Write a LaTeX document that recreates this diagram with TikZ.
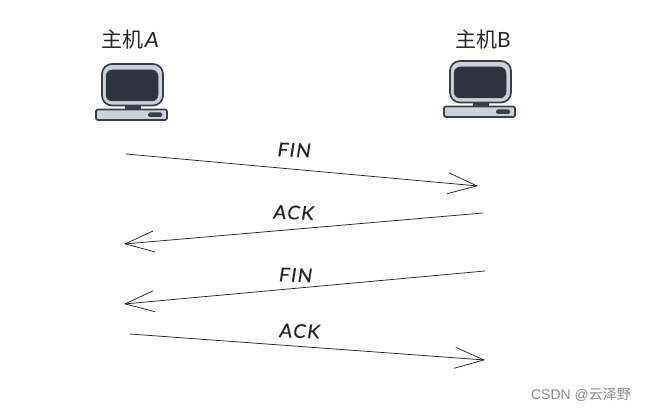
\documentclass[tikz,border=0pt]{standalone}
\usepackage{fontspec}
\setmainfont{Lato}
\newfontfamily\cjk{Noto Sans CJK SC}
\newfontfamily\sketchfont[LetterSpace=7,FakeBold=0.35,FakeSlant=0.12]{Lato}
\newfontfamily\sketchletter[FakeSlant=0.15]{Lato}
\newfontfamily\plainsans{Liberation Sans}
\usetikzlibrary{arrows.meta}
\definecolor{edgeink}{HTML}{3A3F47}
\definecolor{screenink}{HTML}{2F333B}
\definecolor{bezel}{HTML}{CDD1DA}
\tikzset{
  x=1pt,y=-1pt,
  msg/.style={draw=black!85,line width=0.75pt,-{Straight Barb[length=29pt,width=21pt,line width=0.75pt]}},
  msglabel/.style={font=\fontsize{19}{19}\selectfont\sketchfont,text=black!85,inner sep=0pt,rotate=-2},
  hostlabel/.style={font=\fontsize{21}{21}\selectfont,text=black!85,inner sep=0pt},
  case/.style={draw=edgeink,line width=1.7pt,fill=bezel},
  screen/.style={fill=screenink,draw=edgeink,line width=0.5pt}
}
% One desktop computer, origin at the top-left corner of the monitor
\newcommand{\hostpc}[2]{%
  \begin{scope}[shift={(#1,#2)}]
    \draw[case,rounded corners=10pt] (0,0) rectangle (61,41.5);
    \draw[screen,rounded corners=6pt] (4,6) rectangle (56,37);
    \fill[edgeink] (23,41) rectangle (39,46);
    \draw[case,rounded corners=2pt] (-6,45.5) rectangle (65,56);
    \fill[edgeink,rounded corners=1.5pt] (46,48.5) rectangle (60,53);
  \end{scope}}
\begin{document}
\begin{tikzpicture}
\useasboundingbox (0,0) rectangle (646,412);
\fill[white] (0,0) rectangle (646,412);

\hostpc{102}{64}
\hostpc{450}{61}

\node[hostlabel] (hosta) at (130,40) {{\cjk 主机}{\sketchletter A}};
\node[hostlabel] (hostb) at (483,40) {{\cjk 主机}B};

\coordinate (a1) at (126,154);  \coordinate (b1) at (478,186);
\coordinate (b2) at (483,213);  \coordinate (a2) at (124,244);
\coordinate (b3) at (485,271);  \coordinate (a3) at (124,304);
\coordinate (a4) at (130,334);  \coordinate (b4) at (485,360);

\draw[msg] (a1) -- (b1);
\draw[msg] (b2) -- (a2);
\draw[msg] (b3) -- (a3);
\draw[msg] (a4) -- (b4);

\node[msglabel] (fin1) at (293.5,150) {FIN};
\node[msglabel] (ack1) at (293,212.5) {ACK};
\node[msglabel] (fin2) at (295,275) {FIN};
\node[msglabel] (ack2) at (299,331) {ACK};

\node[font=\fontsize{14}{14}\selectfont,text=black!45,inner sep=0pt] (wm) at (581,395) {\plainsans CSDN @{\cjk 云泽野}};
\end{tikzpicture}
\end{document}
